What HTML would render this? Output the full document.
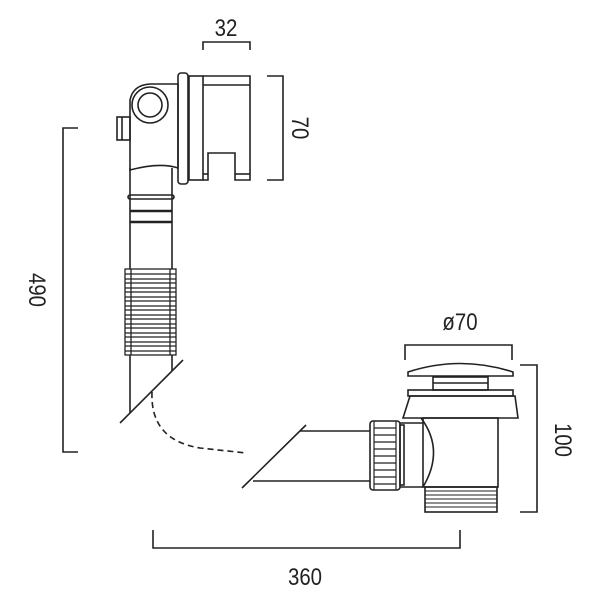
<!DOCTYPE html>
<html><head><style>
html,body{margin:0;padding:0;background:#fff;}
svg{display:block;}
text{font-family:"Liberation Sans",sans-serif;font-size:24px;fill:#222;}
</style></head><body>
<svg width="600" height="600" viewBox="0 0 600 600" xmlns="http://www.w3.org/2000/svg">
<g fill="none" stroke="#222" stroke-width="1.6">
<!-- dimensions -->
<polyline points="203,50 203,42 250,42 250,50"/>
<text stroke="none" text-anchor="middle" transform="translate(226,36) scale(0.85,1)">32</text>
<polyline points="267,76 283,76 283,180 267,180"/>
<text stroke="none" text-anchor="middle" transform="translate(292,128) rotate(90) scale(0.85,1)">70</text>
<polyline points="78,128 63,128 63,452 78,452"/>
<text stroke="none" text-anchor="middle" transform="translate(29,290) rotate(90) scale(0.85,1)">490</text>
<polyline points="405,360 405,345 512,345 512,360"/>
<text stroke="none" text-anchor="middle" transform="translate(460,330) scale(0.85,1)">ø70</text>
<polyline points="520,365 537,365 537,512 520,512"/>
<text stroke="none" text-anchor="middle" transform="translate(555,440) rotate(90) scale(0.85,1)">100</text>
<polyline points="153,530 153,548 460,548 460,530"/>
<text stroke="none" text-anchor="middle" transform="translate(305,585) scale(0.85,1)">360</text>

<!-- top unit -->
<rect x="178" y="73" width="10" height="111" rx="3"/>
<rect x="189" y="76" width="14" height="104"/>
<polyline points="203,76 250,76 250,180 235,180 235,153 208,153 208,180 203,180"/>
<line x1="203" y1="85" x2="250" y2="85"/>
<line x1="208" y1="174" x2="203" y2="174"/>
<line x1="235" y1="174" x2="250" y2="174"/>
<path d="M130,100 Q133,85 150,84 L178,84 L178,168 Q160,162 130,170 Z"/>
<circle cx="150" cy="105" r="18"/>
<circle cx="150" cy="105" r="12"/>
<rect x="117" y="117" width="13" height="23"/>
<line x1="122" y1="117" x2="122" y2="140"/>
<!-- pipe -->
<line x1="130" y1="168" x2="130" y2="269"/>
<line x1="172" y1="168" x2="172" y2="269"/>
<rect x="128" y="195" width="46" height="4" rx="2"/>
<line x1="130" y1="211" x2="172" y2="211" stroke-width="2.5"/>
<line x1="130" y1="222" x2="172" y2="222" stroke-width="2.5"/>
<g stroke-width="1.3">
<rect x="125" y="269" width="51" height="86"/>
<line x1="125" y1="274" x2="176" y2="274"/><line x1="125" y1="279" x2="176" y2="279"/>
<line x1="125" y1="283" x2="176" y2="283"/><line x1="125" y1="288" x2="176" y2="288"/>
<line x1="125" y1="292" x2="176" y2="292"/><line x1="125" y1="297" x2="176" y2="297"/>
<line x1="125" y1="301" x2="176" y2="301"/><line x1="125" y1="306" x2="176" y2="306"/>
<line x1="125" y1="310" x2="176" y2="310"/><line x1="125" y1="315" x2="176" y2="315"/>
<line x1="125" y1="319" x2="176" y2="319"/><line x1="125" y1="324" x2="176" y2="324"/>
<line x1="125" y1="328" x2="176" y2="328"/><line x1="125" y1="333" x2="176" y2="333"/>
<line x1="125" y1="337" x2="176" y2="337"/><line x1="125" y1="342" x2="176" y2="342"/>
<line x1="125" y1="346" x2="176" y2="346"/><line x1="125" y1="351" x2="176" y2="351"/>
<line x1="131" y1="269" x2="131" y2="355"/><line x1="170" y1="269" x2="170" y2="355"/>
</g>
<line x1="130" y1="355" x2="130" y2="413"/>
<line x1="172" y1="355" x2="172" y2="371"/>
<line x1="120" y1="423" x2="183" y2="360"/>
<path d="M152,392 Q150,440 200,448 L246,453" stroke-dasharray="6,4"/>

<!-- bottom right waste -->
<line x1="242" y1="488" x2="306" y2="425"/>
<line x1="300" y1="431" x2="370" y2="431"/>
<line x1="253" y1="481" x2="370" y2="481"/>
<rect x="370" y="421" width="30" height="69" rx="3"/>
<g stroke-width="1.2">
<line x1="374" y1="428" x2="396" y2="428"/><line x1="374" y1="435" x2="396" y2="435"/>
<line x1="374" y1="442" x2="396" y2="442"/><line x1="374" y1="449" x2="396" y2="449"/>
<line x1="374" y1="456" x2="396" y2="456"/><line x1="374" y1="463" x2="396" y2="463"/>
<line x1="374" y1="470" x2="396" y2="470"/><line x1="374" y1="477" x2="396" y2="477"/>
<line x1="374" y1="484" x2="396" y2="484"/>
<line x1="374" y1="421" x2="374" y2="490"/><line x1="396" y1="421" x2="396" y2="490"/>
</g>
<rect x="400" y="425" width="4" height="60"/>
<polyline points="400,423 423,423"/>
<line x1="400" y1="487" x2="423" y2="487"/>
<path d="M421,418 Q445,450 423,487"/>
<rect x="423" y="418" width="75" height="69"/>
<rect x="425" y="487" width="72" height="25"/>
<g stroke-width="1"><line x1="425" y1="491" x2="497" y2="491"/><line x1="425" y1="495" x2="497" y2="495"/><line x1="425" y1="499" x2="497" y2="499"/><line x1="425" y1="503" x2="497" y2="503"/><line x1="425" y1="507" x2="497" y2="507"/></g>
<polygon points="410,396 515,396 518,418 403,418"/>
<rect x="408" y="390" width="105" height="6"/>
<rect x="433" y="377" width="55" height="13"/>
<line x1="433" y1="383" x2="488" y2="383"/>
<path d="M408,372 Q460,355 513,372 L513,376 L408,376 Z"/>
</g>
</svg>
</body></html>
